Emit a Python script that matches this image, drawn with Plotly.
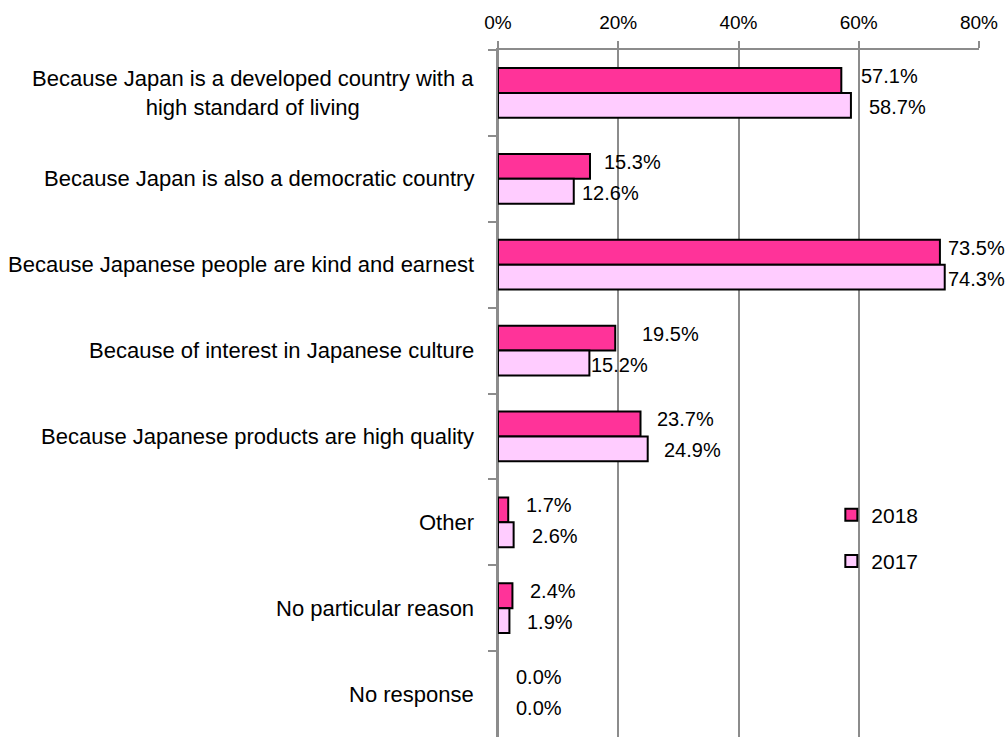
import plotly.graph_objects as go

categories = [
    "Because Japan is a developed country with a<br>high standard of living",
    "Because Japan is also a democratic country",
    "Because Japanese people are kind and earnest",
    "Because of interest in Japanese culture",
    "Because Japanese products are high quality",
    "Other",
    "No particular reason",
    "No response",
]
values_2018 = [57.1, 15.3, 73.5, 19.5, 23.7, 1.7, 2.4, 0.0]
values_2017 = [58.7, 12.6, 74.3, 15.2, 24.9, 2.6, 1.9, 0.0]
series_names = ["2018", "2017"]
x_ticks = [0, 20, 40, 60, 80]
x_tick_labels = ["0%", "20%", "40%", "60%", "80%"]

# styling: horizontal nudges (px) of each data label from its bar end
label_nudge_2018 = [18, 12, 6, 25, 14, 16, 16, 16]
label_nudge_2017 = [16, 6, 1, 0, 14, 16, 16, 16]

FONT = "Liberation Sans, Arial, sans-serif"
colors = ["#FF3399", "#FFCCFF"]

fig = go.Figure()
for name, vals, col, grp in zip(series_names, [values_2018, values_2017], colors, ["a", "b"]):
    fig.add_trace(go.Bar(
        y=categories, x=vals, orientation="h", name=name,
        marker=dict(color=col,
                    line=dict(color="#000000",
                              width=[2 if v > 0 else 0 for v in vals])),
        legendgroup=grp,
    ))

# data labels
for vals, nudges, ys in [(values_2018, label_nudge_2018, 17), (values_2017, label_nudge_2017, -14)]:
    for c, v, nx in zip(categories, vals, nudges):
        fig.add_annotation(
            x=v, y=c, xref="x", yref="y", yshift=ys,
            text=f"{v:.1f}%", showarrow=False, xanchor="left", xshift=nx,
            font=dict(family=FONT, size=20, color="#000000"),
        )

# category labels
for c in categories:
    fig.add_annotation(
        x=0, y=c, xref="paper", yref="y", xshift=-22, xanchor="right",
        text=c, align="center", showarrow=False,
        font=dict(family=FONT, size=22, color="#000000"),
    )

fig.update_layout(
    width=1008, height=737,
    margin=dict(l=498, r=29, t=50, b=0),
    paper_bgcolor="white", plot_bgcolor="white",
    barmode="group", bargap=0.42, bargroupgap=0,
    font=dict(family=FONT, size=18, color="#000000"),
    showlegend=True,
    legend=dict(x=0.693, y=0.353, xanchor="left", yanchor="top",
                bgcolor="rgba(0,0,0,0)", tracegroupgap=16,
                traceorder="grouped", font=dict(size=21),
                itemwidth=30),
)
fig.update_xaxes(
    side="top", range=[0, 80], tickvals=x_ticks, ticktext=x_tick_labels,
    showgrid=True, gridcolor="#8C8C8C", gridwidth=1.5,
    showline=True, linecolor="#8C8C8C", linewidth=1.5,
    ticks="outside", ticklen=7, tickcolor="#8C8C8C", tickwidth=1.5,
    zeroline=True, zerolinecolor="#8C8C8C", zerolinewidth=1.5,
    tickfont=dict(family=FONT, size=19), ticklabelstandoff=5,
)
fig.update_yaxes(
    autorange="reversed", showticklabels=False,
    showline=True, linecolor="#8C8C8C", linewidth=1.5,
    ticks="outside", ticklen=8, tickcolor="#8C8C8C", tickwidth=1.5,
    tickson="boundaries", showgrid=False,
)

fig.write_html("out.html")
